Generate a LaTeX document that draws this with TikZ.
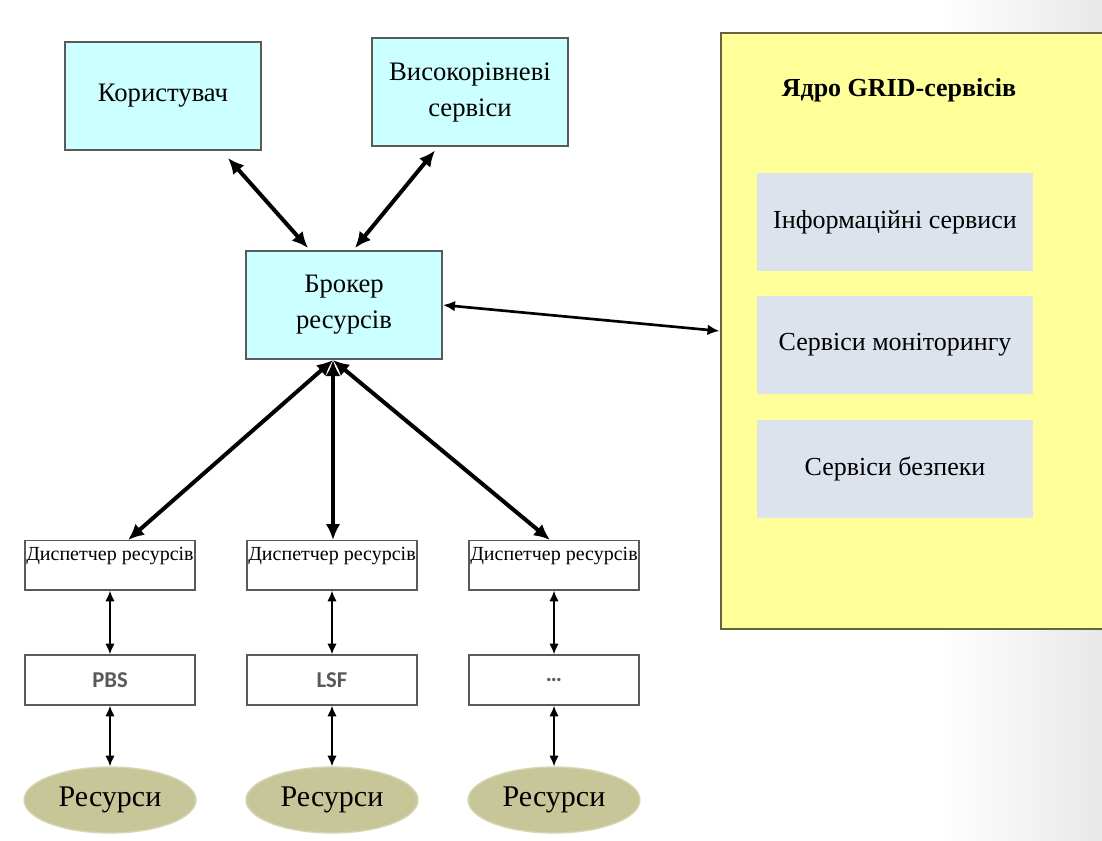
\documentclass[tikz,border=0pt]{standalone}
\usepackage{fontspec}
\setmainfont{Liberation Serif}
\newfontfamily\pbsfont{Carlito}
\usetikzlibrary{arrows.meta,calc,shapes.geometric}

\definecolor{cyanbox}{RGB}{204,255,255}
\definecolor{corefill}{RGB}{255,255,153}
\definecolor{coreline}{RGB}{100,100,62}
\definecolor{srvfill}{RGB}{221,227,236}
\definecolor{resfill}{RGB}{199,198,152}
\definecolor{resline}{RGB}{215,214,180}
\definecolor{boxline}{RGB}{85,92,92}

\tikzset{
  topbox/.style={draw=boxline, line width=1.5pt, fill=cyanbox, minimum width=147pt,
    minimum height=81pt, align=center, font=\fontsize{20}{27}\selectfont},
  srvbox/.style={fill=srvfill, minimum width=207pt, minimum height=73.5pt,
    font=\fontsize{19.5}{22}\selectfont},
  dispbox/.style={draw=boxline, line width=1pt, fill=white, minimum width=127.5pt,
    text height=13pt, text depth=20pt, inner ysep=2pt, inner xsep=0pt,
    font=\fontsize{15}{16}\selectfont},
  lrmsbox/.style={draw=boxline, line width=1pt, fill=white, minimum width=127.5pt,
    minimum height=37.5pt, text=black!65, font=\pbsfont\bfseries\fontsize{17}{18}\selectfont},
  resnode/.style={ellipse, draw=resline, line width=1pt, fill=resfill, minimum width=129pt,
    minimum height=49.5pt, inner sep=0pt, font=\fontsize{22.5}{24}\selectfont},
  bigarrow/.style={line width=3pt, {Latex[length=12pt,width=11pt]}-{Latex[length=12pt,width=11pt]}},
  midarrow/.style={line width=2pt, {Latex[length=9pt,width=8pt]}-{Latex[length=9pt,width=8pt]}},
  thinarrow/.style={line width=1.2pt, {Latex[length=8pt,width=7pt]}-{Latex[length=8pt,width=7pt]}}
}

\begin{document}
\begin{tikzpicture}[x=0.75pt,y=-0.75pt]
  \useasboundingbox (0,0) rectangle (1102,841);
  \shade[left color=white, right color=black!9] (940,0) rectangle (1102,841);

  % upper part
  \node[topbox] (user) at (163,96) {Користувач};
  \node[topbox] (high) at (470,92.5) {Високорівневі\\сервіси};
  \node[topbox] (broker) at (344,305) {Брокер\\ресурсів};

  % GRID core
  \node[draw=coreline, line width=2pt, fill=corefill, minimum width=292pt,
    minimum height=447pt] (core) at (915.5,331) {};
  \node[font=\bfseries\fontsize{19.5}{22}\selectfont] (coretitle) at (899,90) {Ядро GRID-сервісів};
  \node[srvbox] (info) at (895,222) {Інформаційні сервиси};
  \node[srvbox] (mon) at (895,345) {Сервіси моніторингу};
  \node[srvbox] (sec) at (895,469) {Сервіси безпеки};

  \draw[bigarrow] ($(user.south)+(65,7)$) -- ($(broker.north)+(-36,-2)$);
  \draw[bigarrow] ($(high.south)+(-35,3)$) -- ($(broker.north)+(11,-2)$);
  \draw[midarrow] (broker.east) -- (core.west);

  % resource columns
  \foreach \i/\x/\lab/\off in {1/110/PBS/18, 2/332/LSF/1, 3/554/{\ldots}/-4} {
    \node[dispbox, anchor=north] (d\i) at (\x,540) {Диспетчер ресурсів};
    \node[lrmsbox] (p\i) at (\x,680) {\lab};
    \node[resnode] (r\i) at (\x,800) {Ресурси};
    \draw[thinarrow] (d\i) -- (p\i);
    \draw[thinarrow] (p\i) -- (r\i);
    \draw[bigarrow] ($(broker.south)+(-11,0)$) -- ($(d\i.north)+(\off,0)$);
  }
\end{tikzpicture}
\end{document}
